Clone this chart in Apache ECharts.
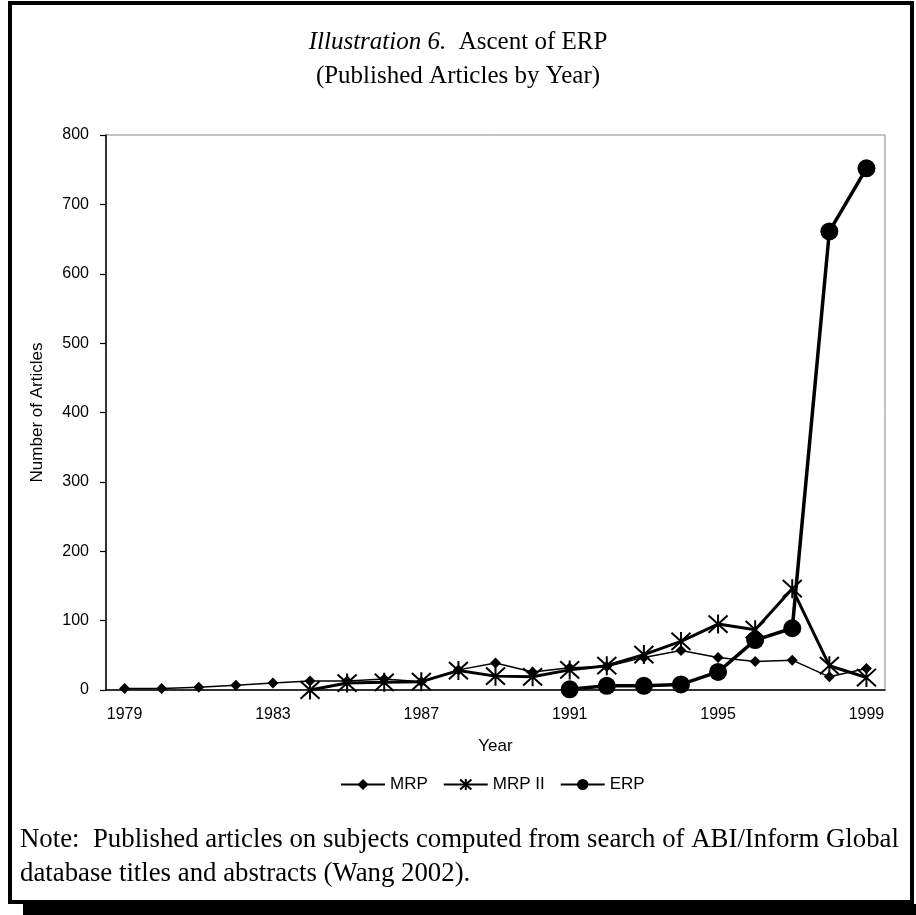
<!DOCTYPE html>
<html>
<head>
<meta charset="utf-8">
<script src="https://cdn.jsdelivr.net/npm/echarts@6/dist/echarts.min.js"></script>
<style>
html,body{margin:0;padding:0;background:#fff;}
#chart{width:916px;height:915px;}
</style>
</head>
<body>
<div id="chart"></div>
<script>
const years = ['1979','1980','1981','1982','1983','1984','1985','1986','1987','1988','1989','1990','1991','1992','1993','1994','1995','1996','1997','1998','1999'];
const mrp   = [2, 2, 4, 7, 10, 13, 13, 16, 12, 29, 39, 26, 32, 34, 47, 57, 47, 41, 43, 19, 31];
const mrp2  = [null, null, null, null, null, 0, 10, 11, 12, 28, 20, 19, 29, 35, 51, 70, 95, 87, 146, 35, 18];
const erp   = [null, null, null, null, null, null, null, null, null, null, null, null, 1, 6, 6, 8, 26, 72, 89, 661, 752];
const yTicks = [0, 100, 200, 300, 400, 500, 600, 700, 800];

const starPath = 'path://M0,0 L20,20 M20,0 L0,20 M10,-1 L10,21';
const chart = echarts.init(document.getElementById('chart'));
const sans = 'Liberation Sans, Arial, sans-serif';
const tickFont = {fontFamily: sans, fontSize: 16, color: '#000'};
const nameFont = {fontFamily: sans, fontSize: 17, color: '#000'};
chart.setOption({
  animation: false,
  backgroundColor: '#fff',
  title: {
    left: 'center', top: 20,
    text: '{i|Illustration 6.}{n|  Ascent of ERP}\n{n|(Published Articles by Year)}',
    textStyle: {
      fontWeight: 'normal',
      rich: {
        i: {fontFamily: 'Liberation Serif, Times New Roman, serif', fontStyle: 'italic', fontWeight: 'normal', fontSize: 25, color: '#000', lineHeight: 34},
        n: {fontFamily: 'Liberation Serif, Times New Roman, serif', fontWeight: 'normal', fontSize: 25, color: '#000', lineHeight: 34}
      }
    }
  },
  legend: {
    bottom: 117, left: 335,
    itemWidth: 44, itemHeight: 14, itemGap: 15,
    textStyle: nameFont,
    data: ['MRP', 'MRP II', 'ERP']
  },
  grid: {left: 106, right: 31, top: 135, bottom: 225, show: true, borderColor: '#888', borderWidth: 1},
  xAxis: {
    type: 'category', data: years, boundaryGap: true,
    name: 'Year', nameLocation: 'middle', nameGap: 48, nameTextStyle: nameFont,
    axisLine: {lineStyle: {color: '#000', width: 1.5}},
    axisTick: {interval: 0, length: 5, lineStyle: {color: '#000', width: 1.2}},
    axisLabel: Object.assign({interval: 3, margin: 17}, tickFont),
    splitLine: {show: false}
  },
  yAxis: {
    type: 'value', min: yTicks[0], max: yTicks[yTicks.length - 1], interval: 100,
    name: 'Number of Articles', nameLocation: 'middle', nameGap: 60, nameTextStyle: nameFont,
    axisLine: {show: true, lineStyle: {color: '#000', width: 1.5}},
    axisTick: {show: true, length: 6, lineStyle: {color: '#000', width: 1.2}},
    axisLabel: Object.assign({margin: 17}, tickFont),
    splitLine: {show: false}
  },
  series: [
    {
      name: 'MRP', type: 'line', data: mrp, symbol: 'diamond', symbolSize: 11,
      lineStyle: {color: '#000', width: 1.5}, itemStyle: {color: '#000'}, z: 3
    },
    {
      name: 'MRP II', type: 'line', data: mrp2, symbol: starPath, symbolSize: 19,
      lineStyle: {color: '#000', width: 3}, itemStyle: {color: 'none', borderColor: '#000', borderWidth: 2}, z: 2
    },
    {
      name: 'ERP', type: 'line', data: erp, symbol: 'circle', symbolSize: 18,
      lineStyle: {color: '#000', width: 3.5}, itemStyle: {color: '#000'}, z: 4
    }
  ],
  graphic: [
    {type: 'rect', shape: {x: 10, y: 3, width: 902, height: 899}, style: {fill: 'none', stroke: '#000', lineWidth: 4}, silent: true},
    {type: 'rect', shape: {x: 23, y: 904, width: 893, height: 11}, style: {fill: '#000'}, silent: true},
    {type: 'text', left: 20, top: 823, silent: true,
     style: {text: 'Note:  Published articles on subjects computed from search of ABI/Inform Global\ndatabase titles and abstracts (Wang 2002).',
             font: '26.8px "Liberation Serif", "Times New Roman", serif', fill: '#000', lineHeight: 34}}
  ]
});
</script>
</body>
</html>
